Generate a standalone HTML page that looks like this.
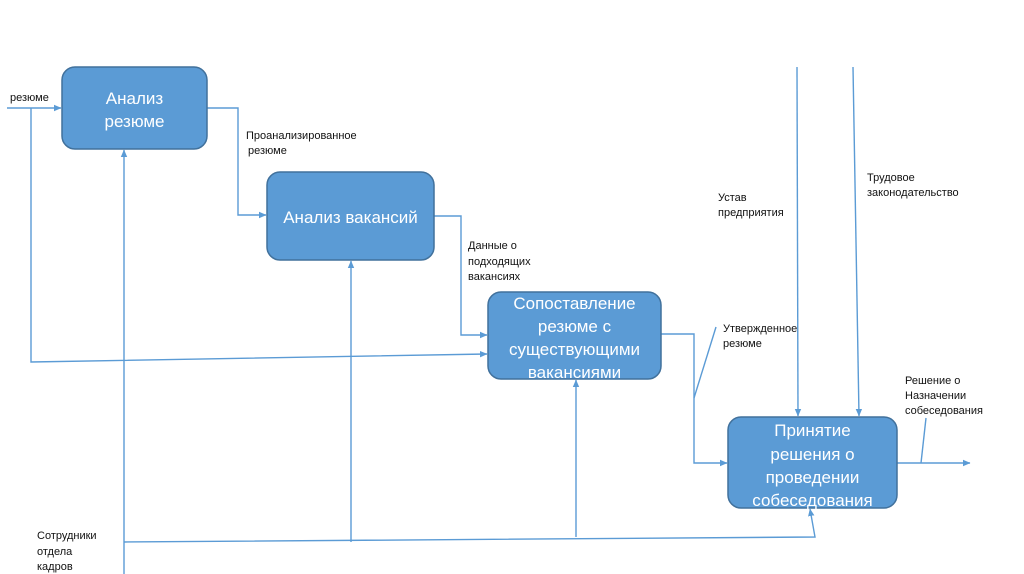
<!DOCTYPE html>
<html>
<head>
<meta charset="utf-8">
<style>
html,body{margin:0;padding:0;background:#fff;}
svg{display:block;}
.box{fill:#5b9bd5;stroke:#41719c;stroke-width:1.5;}
.ln{stroke:#5b9bd5;stroke-width:1.4;fill:none;}
.bt{fill:#fff;font-family:"Liberation Sans","DejaVu Sans",sans-serif;font-size:17px;text-anchor:middle;}
.lb{fill:#111;font-family:"Liberation Sans","DejaVu Sans",sans-serif;font-size:11px;}
</style>
</head>
<body>
<svg width="1024" height="574" viewBox="0 0 1024 574" xmlns="http://www.w3.org/2000/svg">
<defs>
<marker id="ar" markerWidth="8" markerHeight="8" refX="7" refY="4" orient="auto" markerUnits="userSpaceOnUse">
<path d="M0,0.8 L7.5,4 L0,7.2 z" fill="#5b9bd5"/>
</marker>
</defs>

<!-- connectors -->
<line class="ln" x1="7" y1="108" x2="61" y2="108" marker-end="url(#ar)"/>
<polyline class="ln" points="31,108 31,362 487,354" marker-end="url(#ar)"/>
<polyline class="ln" points="207,108 238,108 238,215 266,215" marker-end="url(#ar)"/>
<polyline class="ln" points="434,216 461,216 461,335 487,335" marker-end="url(#ar)"/>
<polyline class="ln" points="661,334 694,334 694,463 727,463" marker-end="url(#ar)"/>
<line class="ln" x1="897" y1="463" x2="970" y2="463" marker-end="url(#ar)"/>
<line class="ln" x1="797" y1="67" x2="798" y2="416" marker-end="url(#ar)"/>
<line class="ln" x1="853" y1="67" x2="859" y2="416" marker-end="url(#ar)"/>
<line class="ln" x1="124" y1="574" x2="124" y2="150" marker-end="url(#ar)"/>
<line class="ln" x1="351" y1="542" x2="351" y2="261" marker-end="url(#ar)"/>
<line class="ln" x1="576" y1="537" x2="576" y2="380" marker-end="url(#ar)"/>
<polyline class="ln" points="124,542 815,537 810,509" marker-end="url(#ar)"/>
<!-- leader lines -->
<line class="ln" x1="716" y1="327" x2="694" y2="398" stroke-width="1"/>
<line class="ln" x1="926" y1="418" x2="921" y2="463" stroke-width="1"/>

<!-- boxes -->
<rect class="box" x="62" y="67" width="145" height="82" rx="13"/>
<rect class="box" x="267" y="172" width="167" height="88" rx="13"/>
<rect class="box" x="488" y="292" width="173" height="87" rx="13"/>
<rect class="box" x="728" y="417" width="169" height="91" rx="13"/>

<text class="bt" x="134.5" y="104">Анализ</text>
<text class="bt" x="134.5" y="127">резюме</text>
<text class="bt" x="350.5" y="223">Анализ вакансий</text>
<text class="bt" x="574.5" y="309">Сопоставление</text>
<text class="bt" x="574.5" y="332">резюме с</text>
<text class="bt" x="574.5" y="355">существующими</text>
<text class="bt" x="574.5" y="378">вакансиями</text>
<text class="bt" x="812.5" y="436">Принятие</text>
<text class="bt" x="812.5" y="460">решения о</text>
<text class="bt" x="812.5" y="483">проведении</text>
<text class="bt" x="812.5" y="506">собеседования</text>

<!-- labels -->
<text class="lb" x="10" y="101">резюме</text>
<text class="lb" x="246" y="139">Проанализированное</text>
<text class="lb" x="248" y="154">резюме</text>
<text class="lb" x="468" y="249">Данные о</text>
<text class="lb" x="468" y="265">подходящих</text>
<text class="lb" x="468" y="280">вакансиях</text>
<text class="lb" x="723" y="332">Утвержденное</text>
<text class="lb" x="723" y="347">резюме</text>
<text class="lb" x="905" y="384">Решение о</text>
<text class="lb" x="905" y="399">Назначении</text>
<text class="lb" x="905" y="414">собеседования</text>
<text class="lb" x="718" y="201">Устав</text>
<text class="lb" x="718" y="216">предприятия</text>
<text class="lb" x="867" y="181">Трудовое</text>
<text class="lb" x="867" y="196">законодательство</text>
<text class="lb" x="37" y="539">Сотрудники</text>
<text class="lb" x="37" y="555">отдела</text>
<text class="lb" x="37" y="570">кадров</text>
</svg>
</body>
</html>
